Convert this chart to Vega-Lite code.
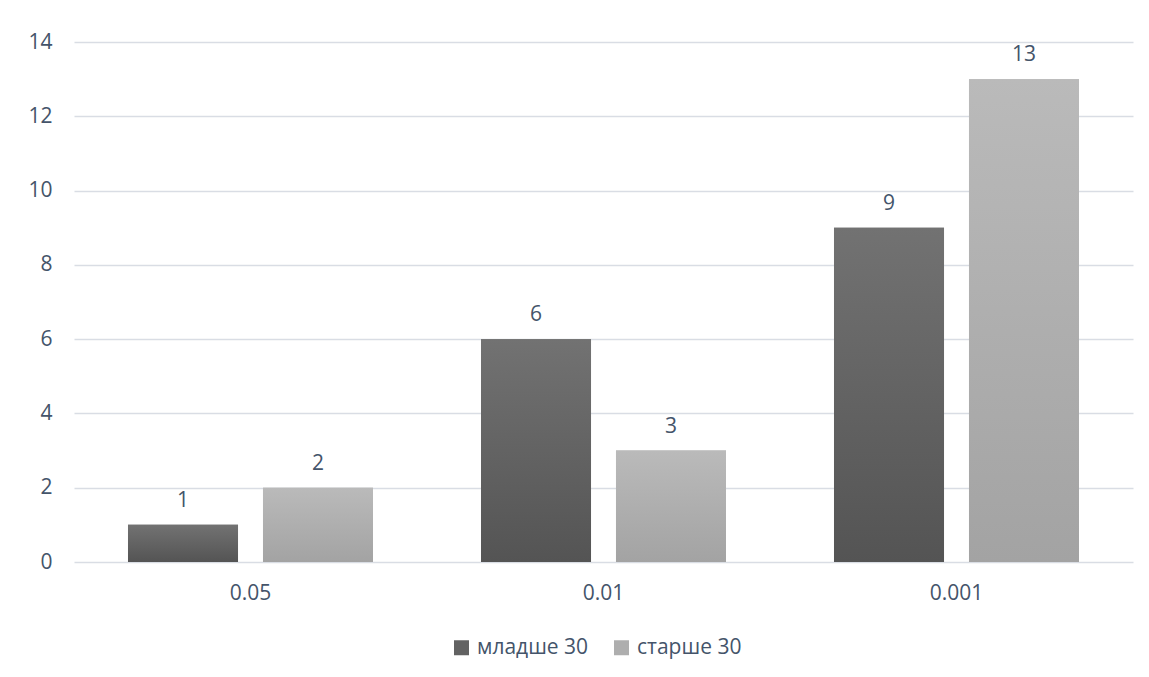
{
  "$schema": "https://vega.github.io/schema/vega-lite/v6.json",
  "width": 1059,
  "height": 520,
  "autosize": {"type": "none"},
  "padding": {"left": 74, "top": 42, "right": 16, "bottom": 115},
  "background": "white",
  "config": {
    "font": "Open Sans",
    "view": {"stroke": null}
  },
  "data": {
    "values": [
      {"p": "0.05", "series": "младше 30", "value": 1},
      {"p": "0.05", "series": "старше 30", "value": 2},
      {"p": "0.01", "series": "младше 30", "value": 6},
      {"p": "0.01", "series": "старше 30", "value": 3},
      {"p": "0.001", "series": "младше 30", "value": 9},
      {"p": "0.001", "series": "старше 30", "value": 13}
    ]
  },
  "encoding": {
    "x": {
      "field": "p",
      "type": "nominal",
      "sort": ["0.05", "0.01", "0.001"],
      "scale": {"paddingInner": 0, "paddingOuter": 0},
      "axis": {
        "title": null,
        "labelAngle": 0,
        "domain": false,
        "ticks": false,
        "labelPadding": 20,
        "labelFontSize": 21,
        "labelColor": "#44546a",
        "labelFont": "Open Sans"
      }
    },
    "xOffset": {
      "field": "series",
      "type": "nominal",
      "sort": ["младше 30", "старше 30"],
      "scale": {"domain": ["младше 30", "старше 30"], "paddingInner": 0.185, "paddingOuter": 0.4}
    },
    "y": {
      "field": "value",
      "type": "quantitative",
      "scale": {"domain": [0, 14]},
      "axis": {
        "title": null,
        "values": [0, 2, 4, 6, 8, 10, 12, 14],
        "domain": false,
        "ticks": false,
        "labelPadding": 22,
        "labelFontSize": 21,
        "labelColor": "#44546a",
        "labelFont": "Open Sans",
        "gridColor": "#d9dde4",
        "gridWidth": 1.5
      }
    }
  },
  "layer": [
    {
      "mark": {"type": "bar"},
      "encoding": {
        "fill": {
          "field": "series",
          "type": "nominal",
          "sort": ["младше 30", "старше 30"],
          "scale": {
            "domain": ["младше 30", "старше 30"],
            "range": ["#626262", "#aeaeae"]
          },
          "legend": {
            "title": null,
            "orient": "none",
            "legendX": 377,
            "legendY": 595,
            "direction": "horizontal",
            "symbolType": "square",
            "symbolSize": 225,
            "symbolStrokeWidth": 0,
            "symbolOpacity": 1,
            "labelFontSize": 21,
            "labelColor": "#44546a",
            "labelFont": "Open Sans",
            "columnPadding": 22,
            "labelOffset": 5
          }
        }
      }
    },
    {
      "mark": {"type": "bar"},
      "encoding": {
        "fill": {
          "condition": {
            "test": "datum.series === 'младше 30'",
            "value": {"gradient": "linear", "x1": 0, "y1": 0, "x2": 0, "y2": 1, "stops": [{"offset": 0, "color": "#727272"}, {"offset": 1, "color": "#545454"}]}
          },
          "value": {"gradient": "linear", "x1": 0, "y1": 0, "x2": 0, "y2": 1, "stops": [{"offset": 0, "color": "#bababa"}, {"offset": 1, "color": "#a3a3a3"}]}
        }
      }
    },
    {
      "mark": {"type": "text", "baseline": "alphabetic", "dy": -18, "fontSize": 21, "color": "#44546a", "font": "Open Sans"},
      "encoding": {
        "text": {"field": "value", "type": "quantitative"}
      }
    }
  ]
}
